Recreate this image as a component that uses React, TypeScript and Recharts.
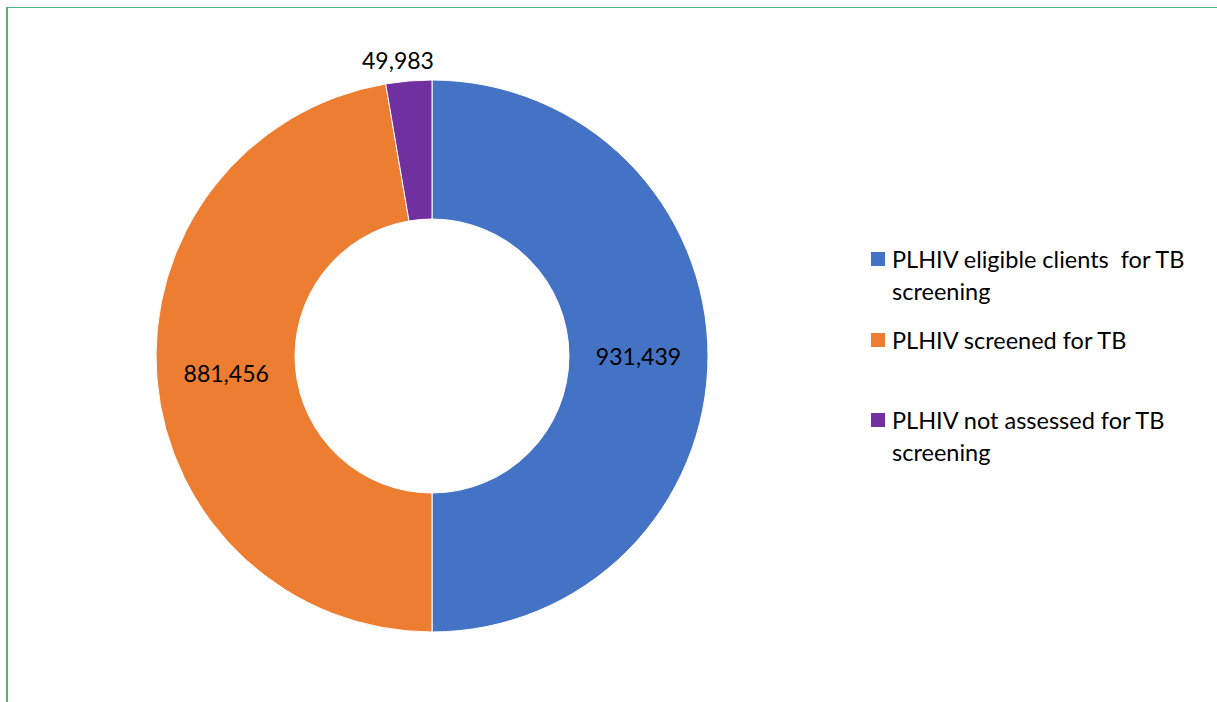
import React from 'react';
import { PieChart, Pie, Cell, Legend } from 'recharts';

const categories = [
  'PLHIV eligible clients  for TB screening',
  'PLHIV screened for TB',
  'PLHIV not assessed for TB screening'
];
const values = [931439, 881456, 49983];
const colors = ['#4472C4', '#ED7D31', '#7030A0'];

const data = categories.map((name, i) => ({ name, value: values[i] }));

const FONT = 'Lato, "Open Sans", sans-serif';
const RADIAN = Math.PI / 180;

const renderLabel = (props: any) => {
  const { cx, cy, midAngle, innerRadius, outerRadius, index, value } = props;
  // small slice gets its label outside the ring, the others sit in the middle of the band
  const outside = index === 2;
  const r = outside ? outerRadius + 21 : (innerRadius + outerRadius) / 2;
  const x = cx + r * Math.cos(-midAngle * RADIAN) + (outside ? -9 : 0);
  const y = cy + r * Math.sin(-midAngle * RADIAN);
  return (
    <text
      x={x}
      y={y}
      fill="#000"
      textAnchor="middle"
      dominantBaseline="central"
      fontFamily={FONT}
      fontSize={23}
    >
      {value.toLocaleString('en-US')}
    </text>
  );
};

const renderLegend = () => (
  <div style={{ fontFamily: FONT, fontSize: 23.5, color: '#000' }}>
    {data.map((d, i) => (
      <div key={d.name} style={{ height: 80.5, display: 'flex', alignItems: 'flex-start' }}>
        <span
          style={{
            display: 'inline-block',
            width: 14,
            height: 14,
            background: colors[i],
            marginTop: 9,
            marginRight: 7,
            flexShrink: 0
          }}
        />
        <span style={{ lineHeight: '32px', whiteSpace: 'pre-wrap', width: 310 }}>{d.name}</span>
      </div>
    ))}
  </div>
);

const App: React.FC = () => {
  return (
    <div style={{ position: 'absolute', left: 0, top: 0, width: 1217, height: 702, background: '#fff' }}>
      <div style={{ position: 'absolute', left: 6, top: 7, width: 1211, height: 1.3, background: '#52b57e' }} />
      <div style={{ position: 'absolute', left: 6, top: 7, width: 1.5, height: 695, background: '#52b57e' }} />
      <PieChart width={1217} height={702} margin={{ top: 0, right: 0, bottom: 0, left: 0 }}>
        <Pie
          data={data}
          dataKey="value"
          nameKey="name"
          cx={432}
          cy={356}
          innerRadius={137}
          outerRadius={276}
          startAngle={90}
          endAngle={-270}
          stroke="#fff"
          strokeWidth={1}
          label={renderLabel}
          labelLine={false}
          isAnimationActive={false}
        >
          {data.map((entry, index) => (
            <Cell key={`cell-${index}`} fill={colors[index]} />
          ))}
        </Pie>
        <Legend
          content={renderLegend}
          layout="vertical"
          wrapperStyle={{ position: 'absolute', left: 871, top: 243, width: 340 }}
        />
      </PieChart>
    </div>
  );
};

export default App;
